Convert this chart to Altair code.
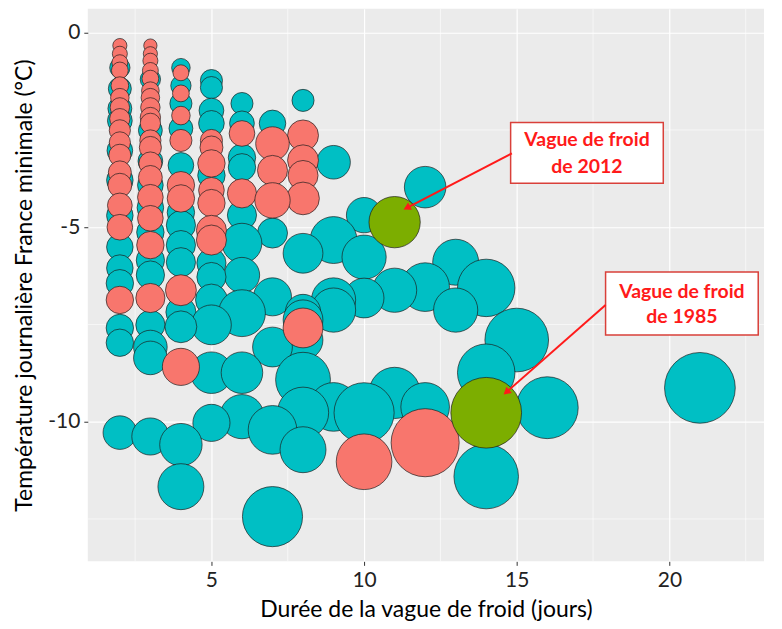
import altair as alt
import pandas as pd

# ---- Data: cold waves (duration in days, min. daily temperature in °C, intensity index) ----
duree_bleu = [2, 2, 2, 2, 2, 2, 2, 2, 2, 2, 2, 2, 2,
              3, 3, 3, 3, 3, 3, 3, 3, 3, 3, 3, 3,
              4, 4, 4, 4, 4, 4, 4, 4, 4, 4, 4, 4, 4,
              5, 5, 5, 5, 5, 5, 5, 5, 5, 5, 5,
              6, 6, 6, 6, 6, 6, 6, 6, 6, 6,
              7, 7, 7, 7, 7, 7,
              8, 8, 8, 8, 8, 8, 8, 8,
              9, 9, 9, 9, 9,
              10, 10, 10, 10,
              11, 11,
              12, 12, 12,
              13, 13,
              14, 14, 14,
              15, 16, 21]
temp_bleu = [-0.90, -1.44, -1.95, -2.26, -3.03, -3.79, -4.70, -5.51, -6.05, -6.44, -7.59, -7.97, -10.28,
             -1.20, -2.51, -3.30, -3.92, -4.50, -5.13, -5.85, -6.23, -7.51, -8.08, -8.36, -10.38,
             -0.90, -1.36, -1.82, -2.46, -3.41, -4.62, -4.95, -5.46, -5.90, -7.18, -7.56, -10.59, -11.67,
             -1.23, -1.41, -2.00, -2.33, -3.67, -5.92, -6.28, -6.87, -7.51, -8.74, -10.03,
             -1.82, -2.33, -3.21, -3.46, -4.69, -5.41, -6.23, -7.21, -8.74, -9.87,
             -2.33, -5.15, -6.79, -8.08, -10.21, -12.44,
             -1.74, -5.67, -7.18, -7.38, -7.90, -8.92, -9.77, -10.72,
             -3.33, -5.33, -6.87, -7.13, -9.62,
             -4.69, -5.77, -6.82, -9.77,
             -6.62, -9.26,
             -3.97, -6.54, -9.62,
             -5.90, -7.13,
             -6.56, -8.74, -11.41,
             -7.90, -9.64, -9.13]
intensite_bleu = [2.3, 2.6, 2.7, 2.8, 2.9, 3.0, 3.0, 3.0, 3.0, 3.1, 3.1, 3.1, 3.8,
                  2.3, 2.7, 2.8, 2.9, 3.0, 3.1, 3.2, 3.2, 3.3, 3.8, 3.8, 4.2,
                  2.1, 2.3, 2.5, 2.7, 2.9, 3.1, 3.3, 3.3, 3.3, 3.4, 3.6, 4.8, 5.2,
                  2.5, 2.5, 2.8, 2.9, 3.1, 3.3, 3.3, 3.6, 4.5, 4.7, 4.2,
                  2.5, 2.8, 3.1, 3.1, 3.3, 4.5, 4.0, 5.3, 4.7, 5.0,
                  3.0, 3.4, 4.3, 4.5, 5.5, 6.8,
                  2.5, 4.5, 4.0, 4.5, 4.5, 6.2, 5.8, 5.2,
                  3.8, 5.3, 5.0, 5.0, 5.5,
                  4.0, 5.0, 4.5, 6.8,
                  5.0, 5.8,
                  4.7, 5.5, 5.5,
                  5.2, 5.0,
                  6.5, 6.5, 7.3,
                  7.2, 7.0, 8.0]

duree_rouge = [2, 2, 2, 2, 2, 2, 2, 2, 2, 2, 2, 2, 2, 2, 2, 2,
               3, 3, 3, 3, 3, 3, 3, 3, 3, 3, 3, 3, 3, 3, 3, 3, 3, 3,
               4, 4, 4, 4, 4, 4, 4, 4,
               5, 5, 5, 5, 5, 5, 5,
               6, 6,
               7, 7, 7,
               8, 8, 8, 8, 8,
               10, 12]
temp_rouge = [-0.33, -0.54, -0.77, -0.97, -1.36, -1.67, -1.92, -2.21, -2.51, -2.82, -3.15, -3.59, -3.92, -4.44, -5.00, -6.87,
              -0.33, -0.54, -0.72, -0.97, -1.18, -1.49, -1.67, -1.92, -2.18, -2.33, -2.77, -2.95, -3.36, -3.72, -4.23, -4.77, -5.46, -6.82,
              -1.03, -1.56, -2.13, -2.77, -3.92, -4.26, -6.62, -8.59,
              -2.77, -2.95, -3.36, -4.05, -4.38, -5.08, -5.33,
              -2.59, -4.13,
              -2.85, -3.54, -4.31,
              -2.64, -3.28, -3.67, -4.26, -7.59,
              -11.03, -10.54]
intensite_rouge = [1.6, 1.7, 1.8, 1.9, 2.0, 2.1, 2.2, 2.3, 2.4, 2.4, 2.5, 2.6, 2.7, 2.8, 2.9, 3.1,
                   1.5, 1.6, 1.7, 1.8, 1.9, 2.0, 2.1, 2.2, 2.3, 2.3, 2.4, 2.5, 2.6, 2.7, 2.9, 2.9, 3.1, 3.3,
                   1.8, 1.9, 2.1, 2.5, 3.1, 3.1, 3.5, 4.2,
                   2.5, 2.6, 3.1, 2.9, 3.1, 3.4, 3.4,
                   2.9, 3.3,
                   3.8, 3.4, 4.0,
                   3.5, 3.5, 3.4, 3.7, 4.5,
                   6.3, 7.7]

duree_vert = [11, 14]
temp_vert = [-4.87, -9.77]
intensite_vert = [5.8, 8.0]

# annotations (in data units)
annot_textes = ["Vague de froid", "de 2012", "Vague de froid", "de 1985"]
annot_x = [17.30, 17.30, 20.41, 20.41]
annot_y = [-2.77, -3.45, -6.66, -7.30]
boite_x1 = [14.80, 17.91]
boite_x2 = [19.80, 22.91]
boite_y1 = [-2.31, -6.15]
boite_y2 = [-3.87, -7.77]
fleche_x1 = [14.84, 17.91]
fleche_y1 = [-3.10, -7.00]
fleche_x2 = [11.40, 14.66]
fleche_y2 = [-4.50, -9.24]
fleche_angle = [152.6, 138.7]

grille_x_mineure = [2.5, 7.5, 12.5, 17.5, 22.5]
grille_y_mineure = [-2.5, -7.5, -12.5]

# ---- build tables ----
def groupe(nom, xs, ys, ss):
    pairs = sorted(zip(xs, ys, ss), key=lambda p: -p[1])
    return [{"duree": a, "temp": b, "intensite": c, "groupe": nom} for a, b, c in pairs]

rows = groupe("bleu", duree_bleu, temp_bleu, intensite_bleu) \
    + groupe("rouge", duree_rouge, temp_rouge, intensite_rouge) \
    + groupe("vert", duree_vert, temp_vert, intensite_vert)
df = pd.DataFrame(rows)
df["ordre"] = range(len(df))

df_txt = pd.DataFrame({"x": annot_x, "y": annot_y, "texte": annot_textes})
df_box = pd.DataFrame({"x1": boite_x1, "x2": boite_x2, "y1": boite_y1, "y2": boite_y2})
df_arr = pd.DataFrame({"x1": fleche_x1, "y1": fleche_y1, "x2": fleche_x2, "y2": fleche_y2, "angle": fleche_angle})
df_gx = pd.DataFrame({"v": grille_x_mineure})
df_gy = pd.DataFrame({"v": grille_y_mineure})

xs = alt.Scale(domain=[0.95, 23.1], nice=False, zero=False)
ys = alt.Scale(domain=[-13.59, 0.615], nice=False, zero=False)

x_axis = alt.Axis(values=[5, 10, 15, 20], title="Durée de la vague de froid (jours)",
                  labelPadding=4, titlePadding=8, labelExpr="toString(datum.value)")
y_axis = alt.Axis(values=[0, -5, -10], title="Température journalière France minimale (°C)",
                  labelPadding=4, titlePadding=11, labelExpr="toString(datum.value)")

gx = alt.Chart(df_gx).mark_rule(color="white", strokeWidth=0.6).encode(
    x=alt.X("v:Q", scale=xs, axis=x_axis))
gy = alt.Chart(df_gy).mark_rule(color="white", strokeWidth=0.6).encode(
    y=alt.Y("v:Q", scale=ys, axis=y_axis))

bulles = alt.Chart(df).mark_circle(opacity=1, stroke="#1a1a1a", strokeWidth=0.8, strokeOpacity=0.85).encode(
    x=alt.X("duree:Q", scale=xs, axis=x_axis),
    y=alt.Y("temp:Q", scale=ys, axis=y_axis),
    size=alt.Size("intensite:Q", scale=alt.Scale(type="pow", exponent=2, domain=[0, 8], range=[0, 5027]), legend=None),
    color=alt.Color("groupe:N", scale=alt.Scale(domain=["bleu", "rouge", "vert"],
                                                range=["#00BFC4", "#F8766D", "#7CAE00"]), legend=None),
    order=alt.Order("ordre:Q"),
)

boites = alt.Chart(df_box).mark_rect(fill="white", stroke="#D9403A", strokeWidth=1.5).encode(
    x=alt.X("x1:Q", scale=xs), x2="x2:Q", y=alt.Y("y1:Q", scale=ys), y2="y2:Q")

fleches = alt.Chart(df_arr).mark_rule(color="#FF1A1A", strokeWidth=2).encode(
    x=alt.X("x1:Q", scale=xs), y=alt.Y("y1:Q", scale=ys), x2="x2:Q", y2="y2:Q")

pointes = alt.Chart(df_arr).mark_point(shape="triangle-right", filled=True, color="#FF1A1A", opacity=1, size=70).encode(
    x=alt.X("x2:Q", scale=xs), y=alt.Y("y2:Q", scale=ys), angle=alt.Angle("angle:Q", scale=None))

textes = alt.Chart(df_txt).mark_text(font="Lato", fontWeight="bold", fontSize=19.5, color="#FF1A1A",
                                      align="center", baseline="middle").encode(
    x=alt.X("x:Q", scale=xs), y=alt.Y("y:Q", scale=ys), text="texte:N")

chart = alt.layer(gx, gy, bulles, boites, fleches, pointes, textes).properties(
    width=678, height=554,
    autosize=alt.AutoSizeParams(type="none"),
    padding={"left": 80, "top": 0, "right": 10, "bottom": 62},
    background="white",
).configure_view(fill="#EBEBEB", strokeWidth=0).configure_axis(
    domain=False, tickColor="#333333", tickSize=4, tickWidth=1,
    grid=True, gridColor="white", gridWidth=1.2,
    labelFont="Lato", titleFont="Lato", labelFontSize=21, titleFontSize=23,
    labelColor="#222222", titleColor="#000000", titleFontWeight="normal",
)

chart.save("out.html", embed_options={"renderer": "svg", "actions": False})
